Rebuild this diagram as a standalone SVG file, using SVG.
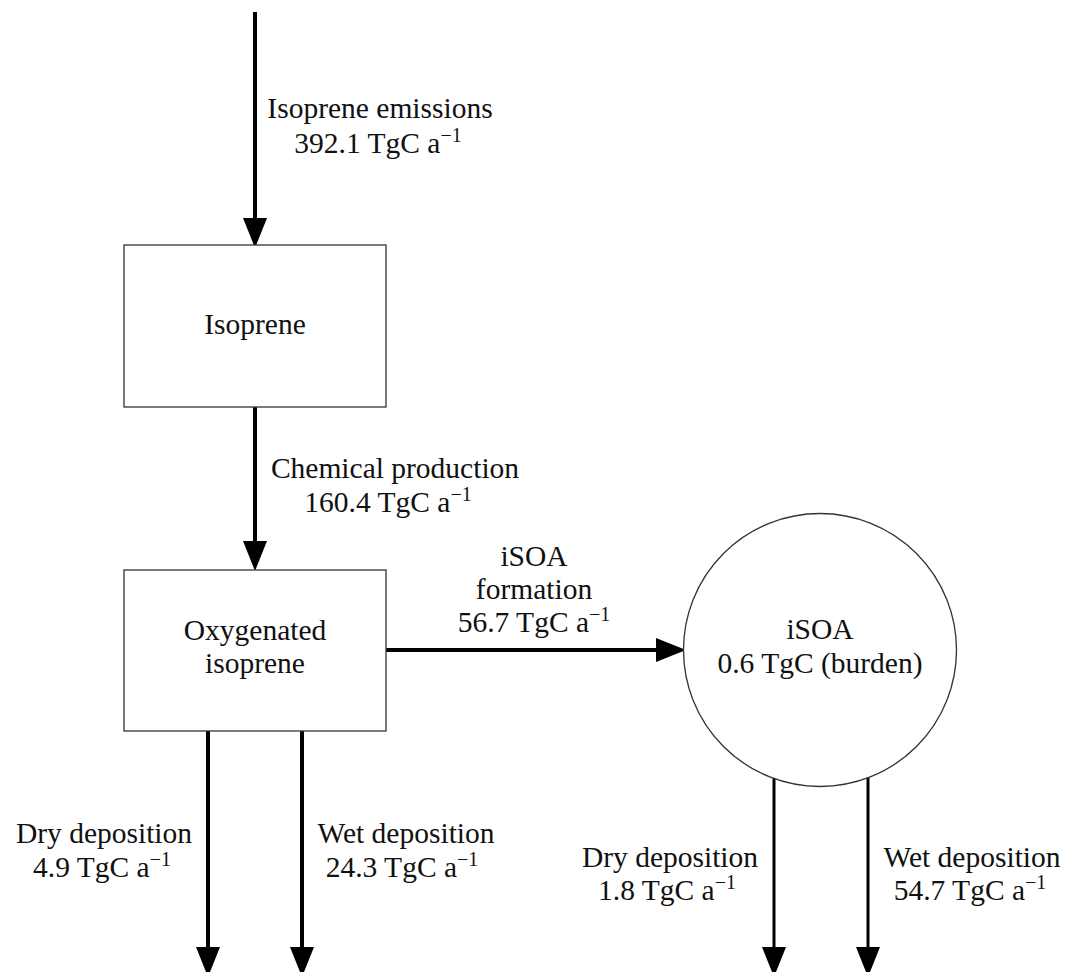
<svg xmlns="http://www.w3.org/2000/svg" width="1069" height="972" viewBox="0 0 1069 972">
<style>
text{font-family:"Liberation Serif","Times New Roman",serif;font-size:29.5px;fill:#111;text-anchor:middle}
.sup{font-size:20px}
.box{fill:#fff;stroke:#333;stroke-width:1.3}
.flow{stroke:#000;stroke-width:4;fill:none;marker-end:url(#ah)}
.thin{stroke-width:3}
</style>
<defs>
<marker id="ah" markerUnits="userSpaceOnUse" markerWidth="30" markerHeight="24" viewBox="0 0 25 20" refX="10" refY="10" orient="auto">
<path d="M0,0 L25,10 L0,20 Z" fill="#000"/>
</marker>
</defs>
<rect width="1069" height="972" fill="#fff"/>
<g id="connectors">
<line class="flow" x1="255" y1="12" x2="255" y2="230"/>
<line class="flow" x1="255" y1="407" x2="255" y2="553"/>
<line class="flow" x1="386" y1="650" x2="668" y2="650"/>
<line class="flow" x1="208" y1="731" x2="208" y2="959"/>
<line class="flow" x1="302" y1="731" x2="302" y2="959"/>
<line class="flow thin" x1="774" y1="778" x2="774" y2="959"/>
<line class="flow thin" x1="868" y1="778" x2="868" y2="959"/>
</g>
<g id="labels">
<text x="380" y="118">Isoprene emissions</text>
<text x="378" y="153">392.1 TgC a<tspan class="sup" dy="-11">−1</tspan></text>
<text x="395" y="478">Chemical production</text>
<text x="388" y="512">160.4 TgC a<tspan class="sup" dy="-11">−1</tspan></text>
<text x="534" y="566">iSOA</text>
<text x="534" y="599">formation</text>
<text x="534" y="632">56.7 TgC a<tspan class="sup" dy="-11">−1</tspan></text>
<text x="104" y="843">Dry deposition</text>
<text x="102" y="877">4.9 TgC a<tspan class="sup" dy="-11">−1</tspan></text>
<text x="406" y="843">Wet deposition</text>
<text x="402" y="877">24.3 TgC a<tspan class="sup" dy="-11">−1</tspan></text>
<text x="670" y="867">Dry deposition</text>
<text x="667" y="900">1.8 TgC a<tspan class="sup" dy="-11">−1</tspan></text>
<text x="972" y="867">Wet deposition</text>
<text x="970" y="900">54.7 TgC a<tspan class="sup" dy="-11">−1</tspan></text>
</g>
<g id="isoprene">
<rect class="box" x="124" y="245" width="262" height="162"/>
<text x="255" y="334">Isoprene</text>
</g>
<g id="oxygenated">
<rect class="box" x="124" y="570" width="262" height="161"/>
<text x="255" y="640">Oxygenated</text>
<text x="255" y="673">isoprene</text>
</g>
<g id="isoa">
<circle class="box" cx="820" cy="650" r="136.5" stroke-width="1"/>
<text x="820" y="639">iSOA</text>
<text x="820" y="673">0.6 TgC (burden)</text>
</g>
</svg>
